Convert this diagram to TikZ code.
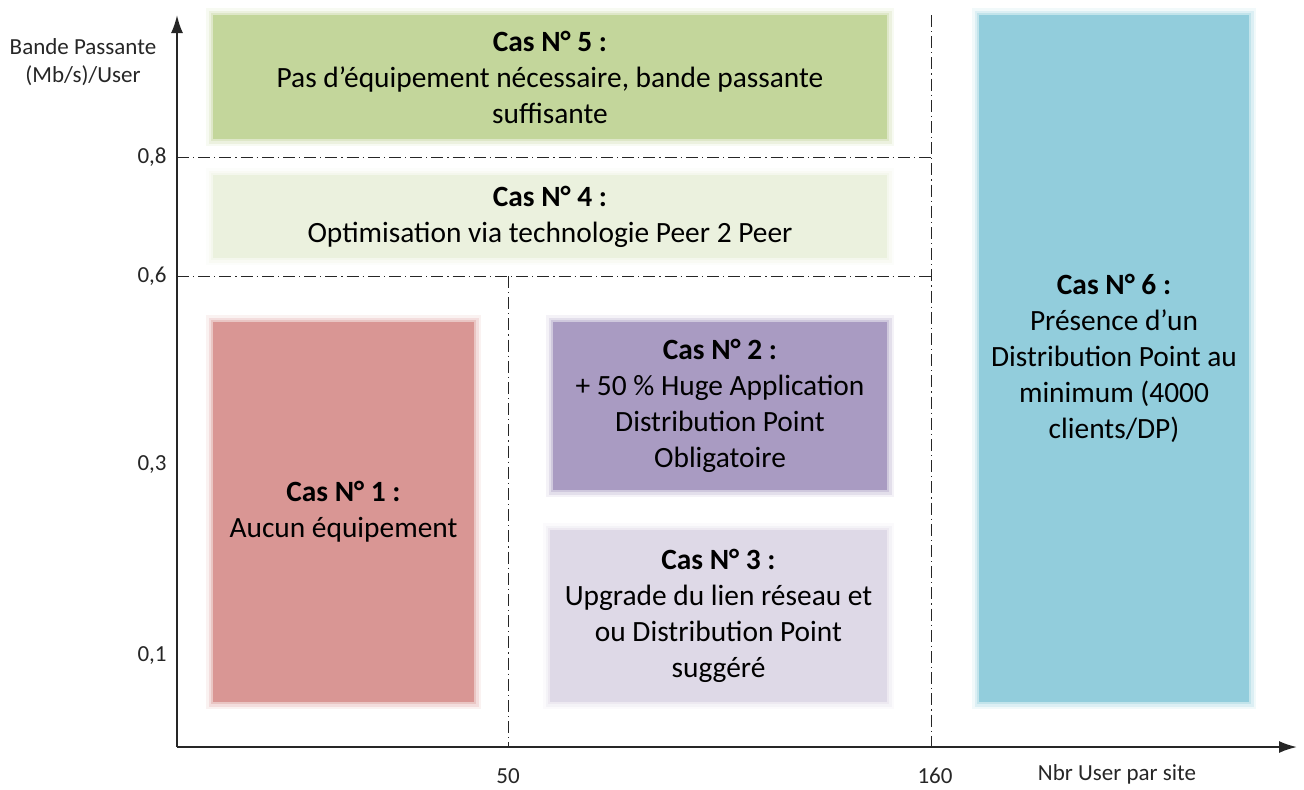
\documentclass[tikz,border=0pt]{standalone}
\usepackage{fontspec}
\setmainfont{Carlito}
\usetikzlibrary{positioning,arrows.meta}

\definecolor{casun}{HTML}{D99694}
\definecolor{casdeux}{HTML}{A99BC2}
\definecolor{castrois}{HTML}{DED9E7}
\definecolor{casquatre}{HTML}{EBF1DE}
\definecolor{cascinq}{HTML}{C3D69B}
\definecolor{cassix}{HTML}{92CDDC}
\definecolor{trait}{HTML}{262626}

\tikzset{
  casbox/.style={fill=#1, inner sep=0pt, align=center,
    preaction={draw=#1!50!white, line width=7pt, rounded corners=4pt, opacity=.25},
    preaction={draw=#1!55!white, line width=4.5pt, rounded corners=2pt, opacity=.45},
    preaction={draw=#1!65!white, line width=2pt, opacity=.7},
    font=\fontsize{14.7}{18}\selectfont},
  seuil/.style={draw=trait, line width=0.5pt, dash pattern=on 6pt off 2pt on 0.6pt off 2pt},
  graduation/.style={font=\fontsize{11.5}{14}\selectfont, text=trait, inner sep=1pt}
}

\begin{document}
\begin{tikzpicture}[x=0.5pt,y=-0.5pt]
\useasboundingbox (0,0) rectangle (1304,789);

% zones
\node[casbox=cascinq, minimum width=337pt, minimum height=62pt] (c5) at (550,77)
  {\textbf{Cas N° 5 :}\\Pas d’équipement nécessaire, bande passante\\suffisante};
\node[casbox=casquatre, minimum width=337pt, minimum height=41.5pt] (c4) at (550,216.5)
  {\textbf{Cas N° 4 :}\\Optimisation via technologie Peer 2 Peer};
\node[casbox=casun, minimum width=130.5pt, minimum height=190pt] (c1) at (343.5,512)
  {\textbf{Cas N° 1 :}\\Aucun équipement};
\node[casbox=casdeux, minimum width=167pt, minimum height=84pt] (c2) at (720,406)
  {\textbf{Cas N° 2 :}\\+ 50 \% Huge Application\\Distribution Point\\Obligatoire};
\node[casbox=castrois, minimum width=168.5pt, minimum height=86pt] (c3) at (718.5,616)
  {\textbf{Cas N° 3 :}\\Upgrade du lien réseau et\\ou Distribution Point\\suggéré};
\node[casbox=cassix, minimum width=135pt, minimum height=343.5pt] (c6) at (1114,358.5)
  {\textbf{Cas N° 6 :}\\Présence d’un\\Distribution Point au\\minimum (4000\\clients/DP)};

% axes
\coordinate (o) at (177,747);
\coordinate (ymax) at (177,15);
\coordinate (xmax) at (1297,747);
\path[draw=trait,line width=1pt,->,>={Latex[length=9pt,width=6pt]}] (o) -- (ymax);
\path[draw=trait,line width=1pt,->,>={Latex[length=9pt,width=6pt]}] (o) -- (xmax);

% seuils
\coordinate (y8) at (177,157);
\coordinate (y8e) at (931,157);
\coordinate (y6) at (177,276);
\coordinate (y6e) at (931,276);
\coordinate (x50) at (508,276);
\coordinate (x50b) at (508,747);
\coordinate (x160) at (931,15);
\coordinate (x160b) at (931,747);
\draw[seuil] (y8) -- (y8e);
\draw[seuil] (y6) -- (y6e);
\draw[seuil] (x50) -- (x50b);
\draw[seuil] (x160) -- (x160b);

% graduations
\node[graduation, anchor=east] (g8) at (169,157) {0,8};
\node[graduation, anchor=east] (g6) at (169,276) {0,6};
\node[graduation, anchor=east] (g3) at (169,464) {0,3};
\node[graduation, anchor=east] (g1) at (169,655) {0,1};
\node[graduation] (g50) at (508,776) {50};
\node[graduation] (g160) at (935,776) {160};
\node[graduation] (lx) at (1117,774) {Nbr User par site};
\node[graduation, align=center] (ly) at (83,62) {Bande Passante\\(Mb/s)/User};
\end{tikzpicture}
\end{document}
